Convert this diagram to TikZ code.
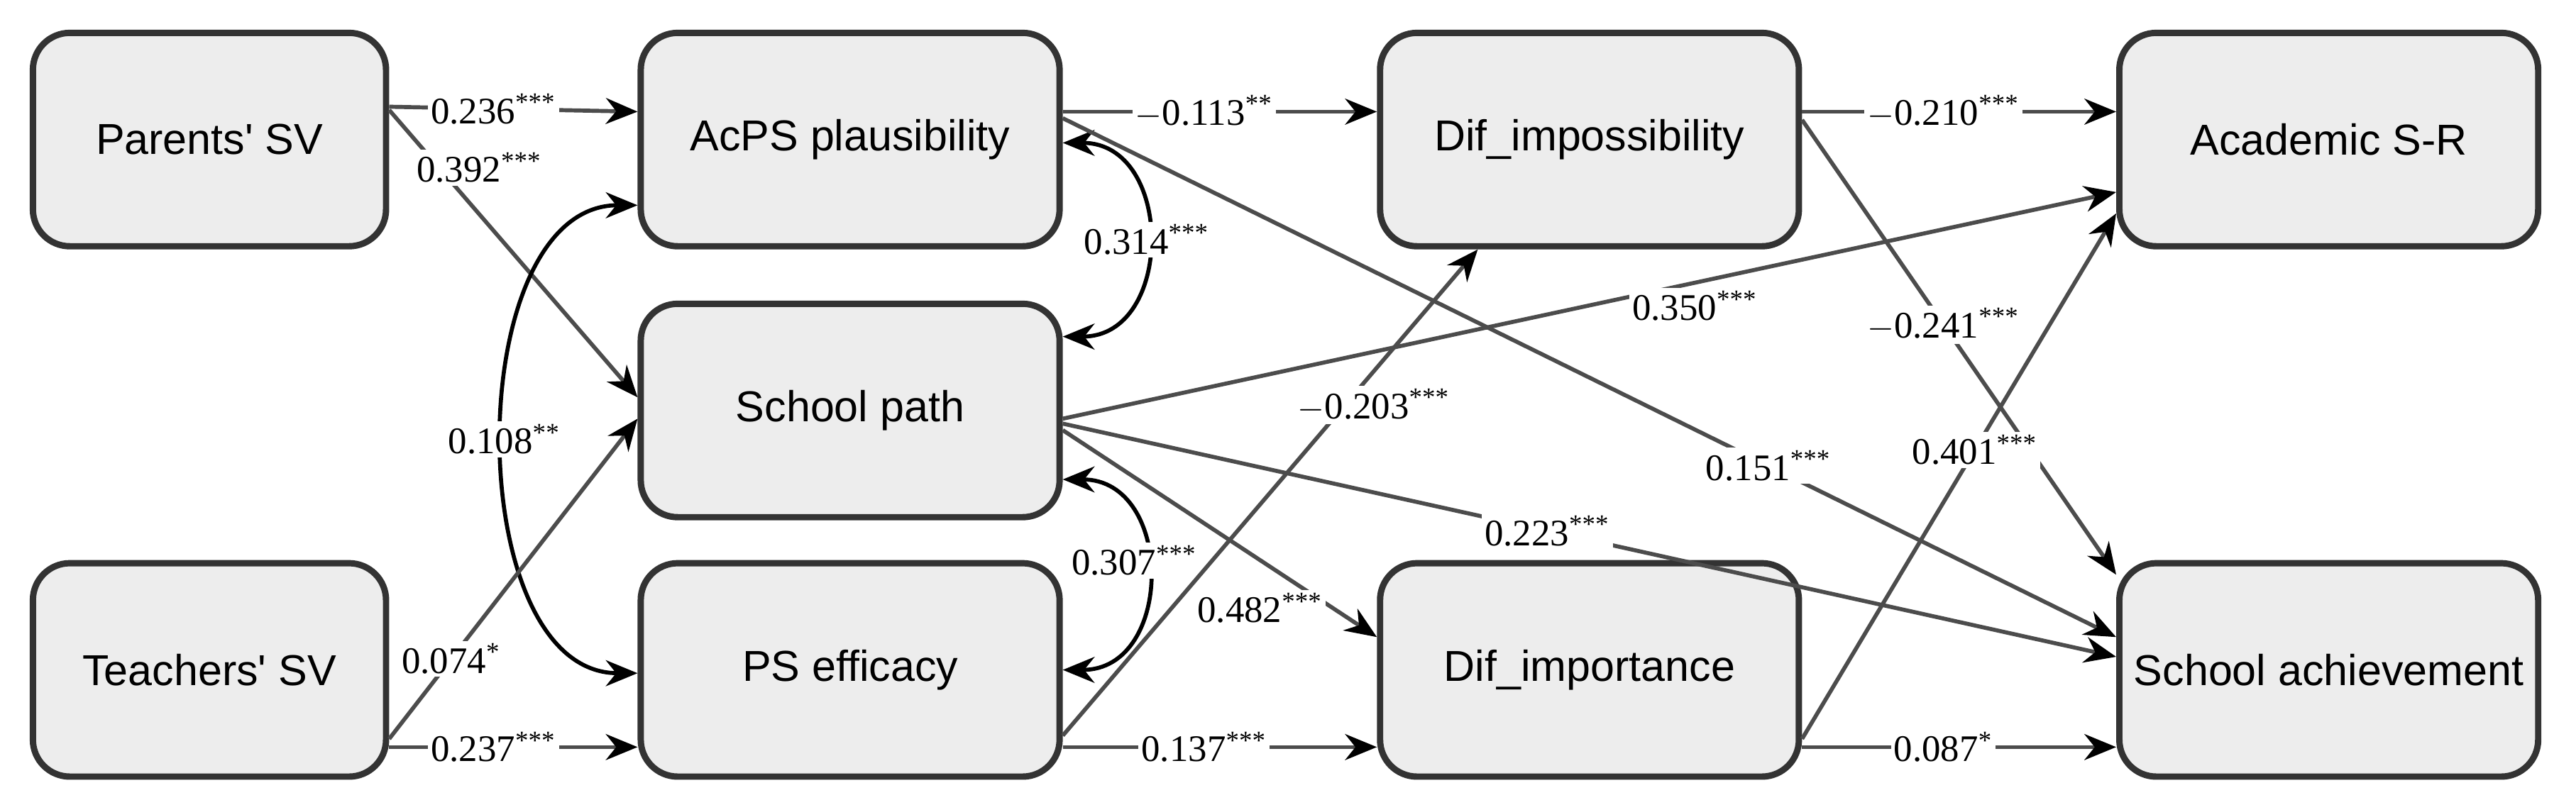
\documentclass[tikz,border=0pt]{standalone}
\usepackage{fontspec}
\setmainfont{Liberation Sans}
\newfontfamily\lblfont{Liberation Serif}
\usetikzlibrary{calc,arrows.meta}
\newcommand{\st}[1]{\textsuperscript{#1}}
\begin{document}
\begin{tikzpicture}[x=0.02cm,y=-0.02cm,
  box/.style={draw=black!80,line width=2.2pt,fill=black!7,rounded corners=0.45cm,
    minimum width=5.1cm,minimum height=2.6cm,font=\fontsize{15}{18}\selectfont},
  sbox/.style={box,minimum width=4.3cm},
  edge/.style={draw=black!70,line width=1.4pt,-{Stealth[length=11pt,width=9pt,color=black]}},
  dedge/.style={edge,{Stealth[length=11pt,width=9pt,color=black]}-{Stealth[length=11pt,width=9pt,color=black]},draw=black},
  lbl/.style={fill=white,inner sep=1pt,font=\lblfont\fontsize{13}{15}\selectfont}]
\useasboundingbox (0,0) rectangle (1568,487);
\node[sbox] (P) at (127.5,85) {Parents\textquotesingle{} SV};
\node[box] (A) at (517.5,85) {AcPS plausibility};
\node[box] (D) at (967.5,85) {Dif\_impossibility};
\node[box] (R) at (1417.5,85) {Academic S-R};
\node[box] (S) at (517.5,250) {School path};
\node[sbox] (T) at (127.5,408) {Teachers\textquotesingle{} SV};
\node[box] (E) at (517.5,408) {PS efficacy};
\node[box] (I) at (967.5,408) {Dif\_importance};
\node[box] (SA) at (1417.5,408) {School achievement};

\draw[edge] ($(P.east)+(0,-20)$) -- node[lbl,pos=0.42]{0.236\st{***}} ($(A.west)+(0,-17)$);
\draw[edge] ($(P.east)+(0,-18)$) -- node[lbl,pos=0.2,xshift=14]{0.392\st{***}} ($(S.west)+(0,-8)$);
\draw[dedge] ($(A.west)+(0,40)$) .. controls (280,125) and (280,410) .. node[lbl,pos=0.5]{0.108\st{**}} ($(E.west)+(0,2)$);
\draw[edge] ($(T.east)+(0,42)$) -- node[lbl,pos=0.25]{0.074\st{*}} ($(S.west)+(0,5)$);
\draw[edge] ($(T.east)+(0,47)$) -- node[lbl,pos=0.42]{0.237\st{***}} ($(E.west)+(0,47)$);
\draw[edge] ($(A.east)+(0,-17)$) -- node[lbl,pos=0.45]{$-$0.113\st{**}} ($(D.west)+(0,-17)$);
\draw[dedge] ($(A.east)+(0,2)$) .. controls (715,87) and (715,205) .. node[lbl,pos=0.5]{0.314\st{***}} ($(S.east)+(0,-45)$);
\draw[edge] ($(A.east)+(0,-13)$) -- node[lbl,pos=0.67]{0.151\st{***}} ($(SA.west)+(0,-20)$);
\draw[edge] ($(S.east)+(0,5)$) -- node[lbl,pos=0.6,yshift=-8]{0.350\st{***}} ($(R.west)+(0,32)$);
\draw[edge] ($(S.east)+(0,8)$) -- node[lbl,pos=0.46]{0.223\st{***}} ($(SA.west)+(0,-8)$);
\draw[edge] ($(S.east)+(0,12)$) -- node[lbl,pos=0.72,xshift=-10pt,yshift=-10pt]{0.482\st{***}} ($(I.west)+(0,-20)$);
\draw[dedge] ($(S.east)+(0,42)$) .. controls (715,292) and (715,408) .. node[lbl,pos=0.45,xshift=-4pt]{0.307\st{***}} ($(E.east)+(0,0)$);
\draw[edge] ($(E.east)+(0,40)$) -- node[lbl,pos=0.68,xshift=10]{$-$0.203\st{***}} ($(D.south)+(-68,0)$);
\draw[edge] ($(E.east)+(0,47)$) -- node[lbl,pos=0.45]{0.137\st{***}} ($(I.west)+(0,47)$);
\draw[edge] ($(D.east)+(0,-17)$) -- node[lbl,pos=0.45]{$-$0.210\st{***}} ($(R.west)+(0,-17)$);
\draw[edge] ($(D.east)+(0,-12)$) -- node[lbl,pos=0.45]{$-$0.241\st{***}} ($(SA.west)+(0,-58)$);
\draw[edge] ($(I.east)+(0,42)$) -- node[lbl,pos=0.55]{0.401\st{***}} ($(R.west)+(0,45)$);
\draw[edge] ($(I.east)+(0,47)$) -- node[lbl,pos=0.45]{0.087\st{*}} ($(SA.west)+(0,47)$);
\end{tikzpicture}
\end{document}
